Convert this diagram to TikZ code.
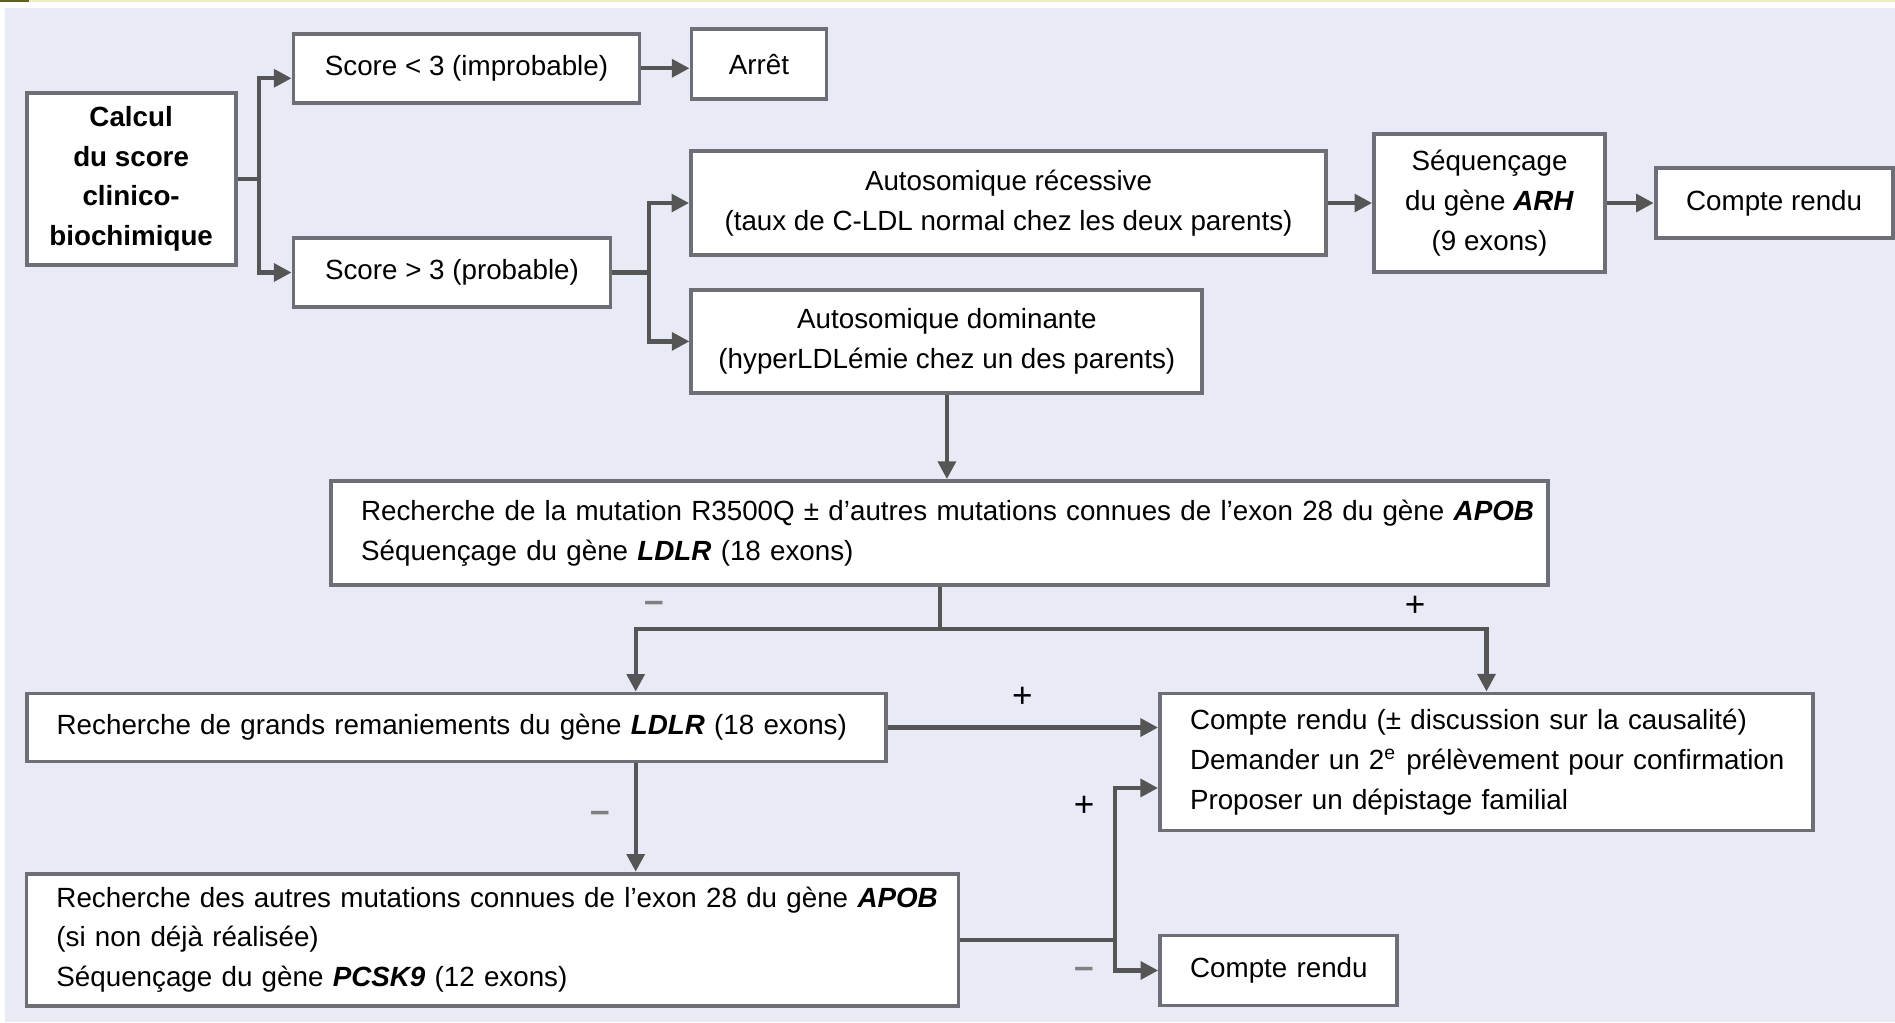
\documentclass[tikz,border=0pt]{standalone}
\usepackage{fontspec}
\setmainfont{Liberation Sans}
\usetikzlibrary{arrows.meta}

\definecolor{fond}{HTML}{E8EAF6}
\definecolor{bord}{HTML}{6E6E76}
\definecolor{filet}{HTML}{555555}

\begin{document}
\begin{tikzpicture}[x=0.012086cm, y=-0.012086cm,
    font=\fontsize{7.9}{11.3}\selectfont,
    boite/.style={draw=bord, line width=1.1pt, fill=white, inner sep=0pt, align=center},
    texte/.style={draw=bord, line width=1.1pt, fill=white, inner xsep=0.3cm, inner ysep=0pt, align=left},
    ligne/.style={draw=filet, line width=1.2pt},
    fleche/.style={ligne, -{Triangle[length=5pt,width=5pt]}},
    signe/.style={inner sep=0pt, font=\fontsize{10}{12}\selectfont}]
        % Fond.
        \fill[white] (0,0) rectangle (1568,846);
        \fill[fond] (4,7) rectangle (1568,846);
        \fill[olive!60!black] (0,0) rectangle (24,2);
        \fill[olive!15] (24,0) rectangle (1568,1.5);
        \useasboundingbox (0,0) rectangle (1568,846);

        % Score clinico-biochimique.
        \node[boite, minimum width=2.09cm, minimum height=1.72cm, font=\fontsize{7.9}{11.3}\selectfont\bfseries]
            (calc) at (108.5,148) {Calcul\\du score\\clinico-\\biochimique};
        \node[boite, minimum width=3.46cm, minimum height=0.69cm] (low) at (386,56.5) {Score < 3 (improbable)};
        \node[boite, minimum width=1.35cm, minimum height=0.70cm] (arret) at (628,53) {Arrêt};
        \node[boite, minimum width=3.17cm, minimum height=0.69cm] (high) at (374,225.5) {Score > 3 (probable)};

        % Mode de transmission.
        \node[boite, minimum width=6.35cm, minimum height=1.04cm] (rec) at (834.5,168)
            {Autosomique récessive\\(taux de C-LDL normal chez les deux parents)};
        \node[boite, minimum width=2.31cm, minimum height=1.38cm] (arh) at (1232.5,168)
            {Séquençage\\du gène \textbf{\textit{ARH}}\\(9 exons)};
        \node[boite, minimum width=2.37cm, minimum height=0.70cm] (crarh) at (1468,168) {Compte rendu};
        \node[boite, minimum width=5.11cm, minimum height=1.03cm] (dom) at (783.5,282.5)
            {Autosomique dominante\\(hyperLDLémie chez un des parents)};

        % Recherches successives.
        \node[texte, text width=11.57cm, minimum height=1.04cm] (apob) at (777.5,441)
            {\mbox{Recherche de la mutation R3500Q ± d'autres mutations connues de l'exon 28 du gène \textbf{\textit{APOB}}}\\
             \mbox{Séquençage du gène \textbf{\textit{LDLR}} (18 exons)}};
        \node[texte, text width=7.99cm, minimum height=0.68cm] (remain) at (377.5,602)
            {\mbox{Recherche de grands remaniements du gène \textbf{\textit{LDLR}} (18 exons)}};
        \node[texte, text width=8.72cm, minimum height=1.32cm] (pcsk) at (407.5,777.5)
            {\mbox{Recherche des autres mutations connues de l'exon 28 du gène \textbf{\textit{APOB}}}\\
             \mbox{(si non déjà réalisée)}\\
             \mbox{Séquençage du gène \textbf{\textit{PCSK9}} (12 exons)}};
        \node[texte, text width=5.93cm, minimum height=1.37cm] (crpos) at (1230,630.5)
            {\mbox{Compte rendu (± discussion sur la causalité)}\\
             \mbox{Demander un 2\textsuperscript{e} prélèvement pour confirmation}\\
             \mbox{Proposer un dépistage familial}};
        \node[texte, text width=1.77cm, minimum height=0.70cm] (crneg) at (1058,803) {\mbox{Compte rendu}};

        % Liaisons.
        \draw[ligne] (calc.east) -- ++(18,0) coordinate (n1);
        \draw[fleche] (n1) |- ([yshift=-0.1cm]low.west);
        \draw[fleche] (n1) |- (high.west);
        \draw[fleche] (low.east) -- (low.east -| arret.west);
        \draw[ligne] (high.east) -- ++(30,0) coordinate (n2);
        \draw[fleche] (n2) |- (rec.west);
        \draw[fleche] (n2) |- (dom.west);
        \draw[fleche] (rec) -- (arh);
        \draw[fleche] (arh) -- (crarh);
        \draw[fleche] (dom.south) -- (dom.south |- apob.north);

        \coordinate (rx) at (526,0);
        \draw[ligne] (apob.south) -- ++(0,35) coordinate (n3);
        \draw[fleche] (n3) -| (rx |- remain.north);
        \draw[fleche] (n3) -| (crpos.north);
        \draw[fleche] (remain.east) -- (remain.east -| crpos.west);
        \draw[fleche] (rx |- remain.south) -- (rx |- pcsk.north);
        \draw[ligne] (pcsk.east) -- ++(128,0) coordinate (n4);
        \draw[fleche] (n4) |- ([yshift=-0.26cm]crpos.west);
        \draw[fleche] (n4) |- (crneg.west);

        % Signes.
        \node[signe, text=gray] (s1) at (541,502) {\textbf{–}};
        \node[signe] (s2) at (1171,502) {+};
        \node[signe] (s3) at (846,577) {+};
        \node[signe, text=gray] (s4) at (497,676) {\textbf{–}};
        \node[signe] (s5) at (897,667) {+};
        \node[signe, text=gray] (s6) at (897,805) {\textbf{–}};
    \end{tikzpicture}
\end{document}
